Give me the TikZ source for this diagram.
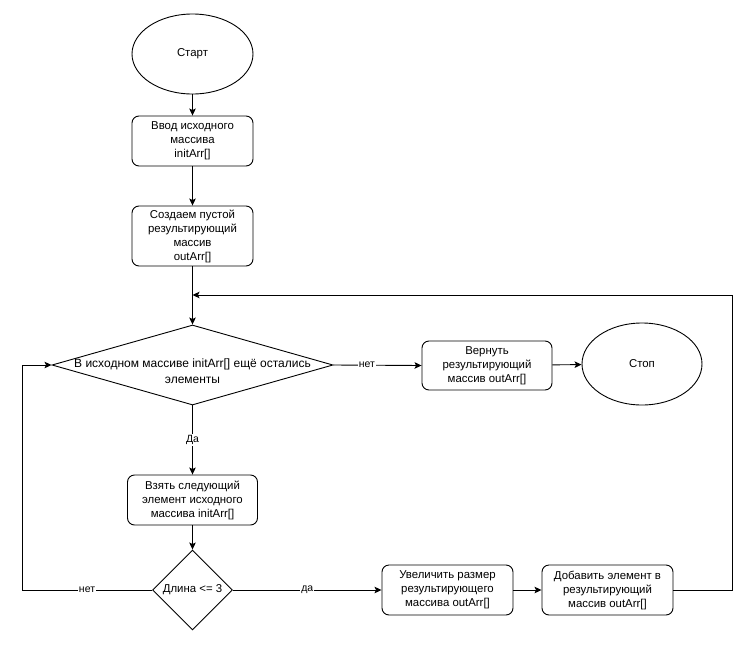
\documentclass[tikz,border=0pt]{standalone}
\usepackage{fontspec}
\setmainfont{Liberation Sans}
\usetikzlibrary{shapes.geometric,arrows.meta}
\begin{document}
\begin{tikzpicture}[x=1pt,y=-1pt,
  every node/.style={font=\fontsize{11.4}{14}\selectfont},
  proc/.style={draw,rounded corners=7pt,minimum width=121pt,minimum height=50pt,inner sep=0pt,align=center,line width=0.9pt},
  term/.style={draw,ellipse,minimum width=121pt,minimum height=80pt,inner sep=0pt,line width=0.9pt},
  dec/.style={draw,diamond,inner sep=0pt,line width=0.9pt},
  conn/.style={line width=0.9pt,-{Stealth[length=7pt,width=6.5pt,inset=1.5pt]}},
  lbl/.style={fill=white,inner sep=1pt,font=\fontsize{10.5}{13}\selectfont}]
\useasboundingbox (0,0) rectangle (756,646);
\node[term] (start) at (192.5,54) {Старт};
\node[proc] (b1) at (192.5,141) {Ввод исходного\\массива\\initArr[]};
\node[proc,minimum height=60pt] (b2) at (192.5,236) {Создаем пустой\\результирующий\\массив\\outArr[]};
\node[dec,minimum width=281pt,minimum height=80pt] (d1) at (192.5,365) {};
\node[align=center,font=\fontsize{12}{15.5}\selectfont] (d1t) at (192.5,371) {В исходном массиве initArr[] ещё остались\\элементы};
\node[proc,minimum width=130pt,minimum height=49pt] (ret) at (487,365.5) {Вернуть\\результирующий\\массив outArr[]};
\node[term,minimum width=120pt,minimum height=82pt] (stop) at (642,364) {Стоп};
\node[proc,minimum width=130pt] (b3) at (192.5,500) {Взять следующий\\элемент исходного\\массива initArr[]};
\node[dec,minimum width=80pt,minimum height=80pt] (d2) at (192.5,590) {};
\node (d2t) at (192.5,590) {Длина <= 3};
\node[proc,minimum width=131pt] (b4) at (447.5,590) {Увеличить размер\\результирующего\\массива outArr[]};
\node[proc,minimum width=131pt] (b5) at (607.5,590) {Добавить элемент в\\результирующий\\массив outArr[]};
\coordinate (m) at (192.5,295);
\coordinate (rc) at (732,590);
\coordinate (lc) at (22,590);
\draw[conn] (start) -- (b1);
\draw[conn] (b1) -- (b2);
\draw[conn] (b2) -- (d1.north);
\draw[conn] (d1.east) -- node[lbl,pos=0.38]{нет} (ret.west);
\draw[conn] (ret) -- (stop);
\draw[conn] (d1.south) -- node[lbl]{Да} (b3.north);
\draw[conn] (b3) -- (d2.north);
\draw[conn] (d2.east) -- node[lbl]{да} (b4.west);
\draw[conn] (b4) -- (b5);
\draw[conn] (b5.east) -- (rc) |- (m);
\draw[conn] (d2.west) -- node[lbl]{нет} (lc) |- (d1.west);
\end{tikzpicture}
\end{document}
